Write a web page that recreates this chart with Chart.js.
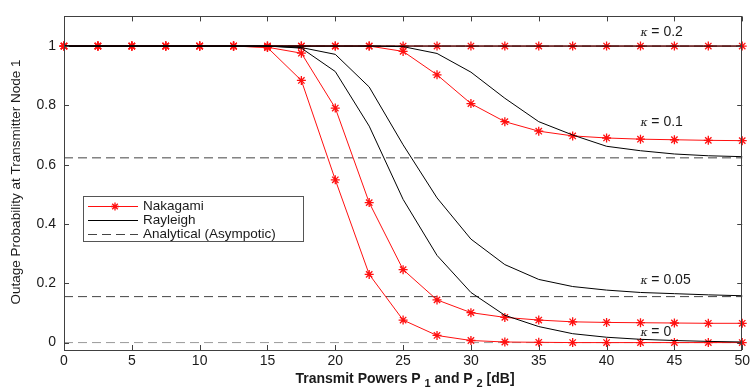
<!DOCTYPE html>
<html>
<head>
<meta charset="utf-8">
<script src="https://cdn.jsdelivr.net/npm/chart.js@4.4.0/dist/chart.umd.min.js"></script>
<style>
  body{margin:0;background:#fff;}
  #wrap{width:753px;height:387px;}
</style>
</head>
<body>
<div id="wrap"><canvas id="myChart"></canvas></div>
<script>
// transmit power axis (dB)
var powers = [0,2.5,5,7.5,10,12.5,15,17.5,20,22.5,25,27.5,30,32.5,35,37.5,40,42.5,45,47.5,50];

// Nakagami (red, stars)
var nakagami02 = [1,1,1,1,1,1,1,1,1,1,1,1,1,1,1,1,1,1,1,1,1];
var nakagami01 = [1,1,1,1,1,1,1,1,1,1,0.982,0.903,0.806,0.745,0.713,0.697,0.690,0.686,0.684,0.682,0.681];
var nakagami005 = [1,1,1,1,1,1,0.996,0.976,0.791,0.472,0.246,0.144,0.101,0.085,0.076,0.070,0.068,0.067,0.066,0.065,0.065];
var nakagami0 = [1,1,1,1,1,1,0.995,0.884,0.549,0.230,0.076,0.024,0.007,0.002,0.001,0,0,0,0,0,0];

// Rayleigh (black)
var rayleigh02 = [1,1,1,1,1,1,1,1,1,1,1,1,1,1,1,1,1,1,1,1,1];
var rayleigh01 = [1,1,1,1,1,1,1,1,1,1,0.998,0.975,0.912,0.824,0.745,0.700,0.662,0.647,0.636,0.630,0.627];
var rayleigh005 = [1,1,1,1,1,1,1,0.995,0.972,0.862,0.667,0.488,0.349,0.263,0.213,0.189,0.177,0.169,0.165,0.161,0.158];
var rayleigh0 = [1,1,1,1,1,1,1,0.993,0.914,0.730,0.483,0.294,0.169,0.092,0.054,0.030,0.018,0.011,0.007,0.004,0.002];

// analytical asymptotes
var asymptotes = [1, 0.623, 0.155, 0];

var xTicks = [0,5,10,15,20,25,30,35,40,45,50];
var yTicks = [0,0.2,0.4,0.6,0.8,1];
var kappas = ['0.2','0.1','0.05','0'];

function pts(ys){
  return ys.map(function(v,i){ return {x: powers[i], y: v}; });
}

var datasets = [];
[rayleigh02, rayleigh01, rayleigh005, rayleigh0].forEach(function(d){
  datasets.push({label:'Rayleigh', data:pts(d), borderColor:'#000', borderWidth:1,
    pointRadius:0, tension:0, clip:false, fill:false});
});
[nakagami02, nakagami01, nakagami005, nakagami0].forEach(function(d){
  datasets.push({label:'Nakagami', data:pts(d), borderColor:'#ff1010', backgroundColor:'#ff1010',
    borderWidth:1, pointStyle:'star', pointRadius:4.5, pointBorderWidth:1.3,
    pointHoverRadius:4.5, tension:0, clip:false, fill:false});
});
asymptotes.forEach(function(a, i){
  datasets.push({label:'Analytical (Asympotic)', data:[{x:powers[0], y:a},{x:powers[powers.length-1], y:a}],
    borderColor: i == 3 ? '#999' : '#444', borderWidth:1, borderDash:[9,5], pointRadius:0,
    tension:0, clip:false, fill:false});
});

var txt = '#1a1a1a';

// box, inward ticks, legend, kappa notes, axis titles
var extras = {
  id:'extras',
  afterDraw: function(chart){
    var ctx = chart.ctx, a = chart.chartArea;
    var xs = chart.scales.x, ys = chart.scales.y;
    ctx.save();
    ctx.strokeStyle = '#404040';
    ctx.lineWidth = 1;
    ctx.strokeRect(Math.round(a.left)+0.5, Math.round(a.top)+0.5,
      Math.round(a.right-a.left)-1, Math.round(a.bottom-a.top));
    ctx.beginPath();
    xTicks.forEach(function(v){
      var p = Math.round(xs.getPixelForValue(v))+0.5;
      ctx.moveTo(p, a.bottom); ctx.lineTo(p, a.bottom-5);
      ctx.moveTo(p, a.top); ctx.lineTo(p, a.top+5);
    });
    yTicks.forEach(function(v){
      var p = Math.round(ys.getPixelForValue(v))+0.5;
      ctx.moveTo(a.left, p); ctx.lineTo(a.left+5, p);
      ctx.moveTo(a.right, p); ctx.lineTo(a.right-5, p);
    });
    ctx.stroke();

    // legend
    var lx = 83, ly = 196, lw = 220, lh = 45;
    ctx.fillStyle = '#fff';
    ctx.fillRect(lx, ly, lw, lh);
    ctx.strokeStyle = '#555';
    ctx.strokeRect(lx+0.5, ly+0.5, lw, lh);
    var rows = [
      {t:'Nakagami', c:'#ff1010', dash:[], star:true},
      {t:'Rayleigh', c:'#000', dash:[]},
      {t:'Analytical (Asympotic)', c:'#444', dash:[9,5]}
    ];
    ctx.font = '13.5px "Liberation Sans", Arial, sans-serif';
    ctx.textBaseline = 'middle';
    rows.forEach(function(r, i){
      var y = ly + 10 + i*14;
      ctx.strokeStyle = r.c;
      ctx.setLineDash(r.dash);
      ctx.beginPath(); ctx.moveTo(88, Math.round(y)+0.5); ctx.lineTo(138, Math.round(y)+0.5); ctx.stroke();
      ctx.setLineDash([]);
      if (r.star){
        ctx.lineWidth = 1.3;
        ctx.beginPath();
        var cx = 115, cy = Math.round(y)+0.5, s = 4;
        ctx.moveTo(cx-s, cy); ctx.lineTo(cx+s, cy);
        ctx.moveTo(cx, cy-s); ctx.lineTo(cx, cy+s);
        ctx.moveTo(cx-s*0.7, cy-s*0.7); ctx.lineTo(cx+s*0.7, cy+s*0.7);
        ctx.moveTo(cx-s*0.7, cy+s*0.7); ctx.lineTo(cx+s*0.7, cy-s*0.7);
        ctx.stroke();
        ctx.lineWidth = 1;
      }
      ctx.fillStyle = txt;
      ctx.textAlign = 'left';
      ctx.fillText(r.t, 143, y);
    });

    // kappa notes
    var noteY = [1.046, 0.743, 0.211, 0.036];
    kappas.forEach(function(k, i){
      var px = xs.getPixelForValue(42.5), py = ys.getPixelForValue(noteY[i]);
      ctx.fillStyle = txt;
      ctx.textAlign = 'left';
      ctx.font = 'italic 11px "DejaVu Serif", serif';
      ctx.fillText('\u03BA', px, py+1);
      ctx.font = '14px "Liberation Sans", Arial, sans-serif';
      ctx.fillText(' = ' + k, px+7, py);
    });

    // x axis title with subscripts
    ctx.fillStyle = txt;
    ctx.textBaseline = 'alphabetic';
    var parts = [
      ['Transmit Powers P ', 0], ['1', 1], [' and P ', 0], ['2', 1], [' [dB]', 0]
    ];
    var big = 'bold 14px "Liberation Sans", Arial, sans-serif', small = 'bold 11px "Liberation Sans", Arial, sans-serif';
    var tot = 0;
    parts.forEach(function(p){ ctx.font = p[1] ? small : big; tot += ctx.measureText(p[0]).width; });
    var x0 = 405 - tot/2, base = 383;
    parts.forEach(function(p){
      ctx.font = p[1] ? small : big;
      ctx.fillText(p[0], x0, base + (p[1] ? 4 : 0));
      x0 += ctx.measureText(p[0]).width;
    });

    // y axis title
    ctx.save();
    ctx.translate(20, 182);
    ctx.rotate(-Math.PI/2);
    ctx.textAlign = 'center';
    ctx.textBaseline = 'alphabetic';
    ctx.font = '13.5px "Liberation Sans Narrow", "Liberation Sans", Arial, sans-serif';
    ctx.fillText('Outage Probability at Transmitter Node 1', 0, 0);
    ctx.restore();

    ctx.restore();
  }
};

var ctx = document.getElementById('myChart').getContext('2d');
var myChart = new Chart(ctx, {
  type: 'line',
  data: { datasets: datasets },
  options: {
    responsive: true,
    maintainAspectRatio: false,
    animation: false,
    events: [],
    layout: { padding: { top: 10, right: 8, bottom: 0, left: 0 } },
    plugins: { legend: { display: false }, tooltip: { enabled: false } },
    scales: {
      x: {
        type: 'linear', min: 0, max: 50,
        afterBuildTicks: function(s){ s.ticks = xTicks.map(function(v){ return {value: v}; }); },
        afterFit: function(s){ s.height = 37; },
        grid: { display: false, drawTicks: false },
        border: { display: false },
        ticks: { padding: 3, color: txt, maxRotation: 0, autoSkip: false,
          callback: function(v){ return String(v); },
          font: { family: '"Liberation Sans", Arial, sans-serif', size: 14 } }
      },
      y: {
        type: 'linear', min: -0.025, max: 1.1,
        afterBuildTicks: function(s){ s.ticks = yTicks.map(function(v){ return {value: v}; }); },
        afterFit: function(s){ s.width = 64; },
        grid: { display: false, drawTicks: false },
        border: { display: false },
        ticks: { padding: 8, color: txt, autoSkip: false,
          callback: function(v){ return String(Math.round(v*10)/10); },
          font: { family: '"Liberation Sans", Arial, sans-serif', size: 14 } }
      }
    }
  },
  plugins: [extras]
});
</script>
</body>
</html>
